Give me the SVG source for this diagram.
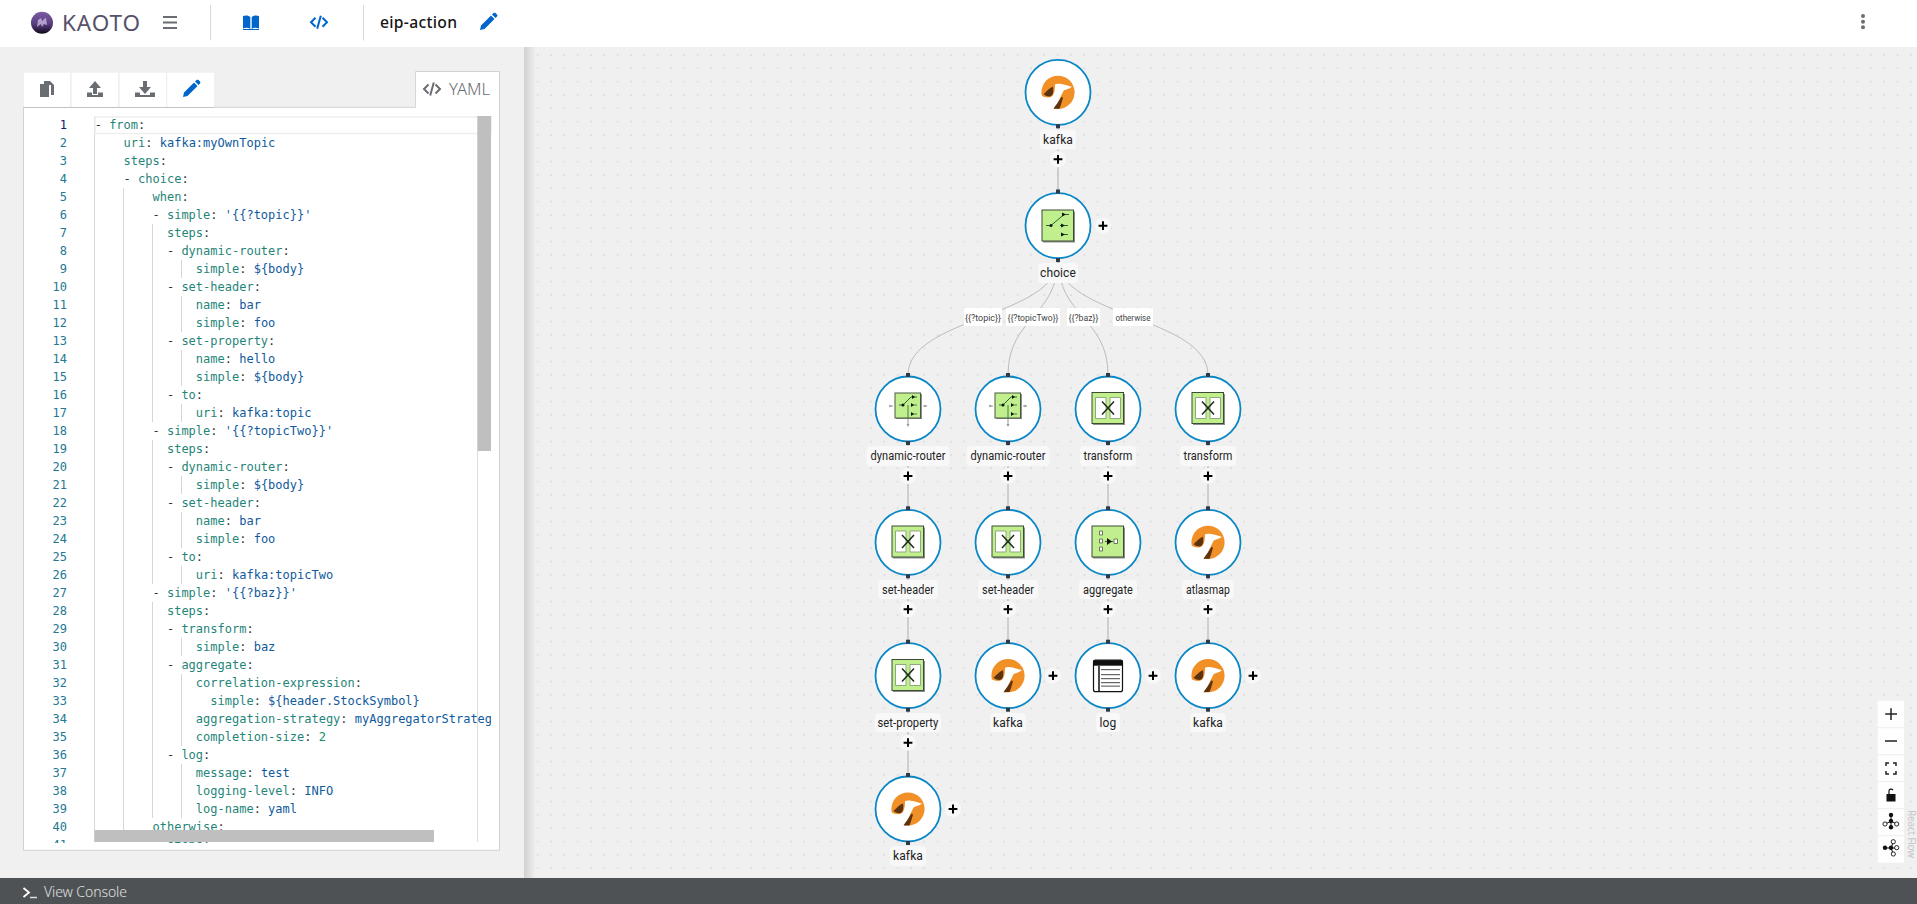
<svg xmlns="http://www.w3.org/2000/svg" width="1917" height="904" viewBox="0 0 1917 904">
<style>
.ui{font-family:"Noto Sans","Liberation Sans",sans-serif}
.code{font-family:"DejaVu Sans Mono","Liberation Mono",monospace;font-size:12px;white-space:pre;fill:#333}
.k{fill:#1f8579}.v{fill:#0f5a9c}.n{fill:#178a6a}
.ln{font-family:"DejaVu Sans Mono","Liberation Mono",monospace;font-size:12px;fill:#237893;text-anchor:end}
.guide{stroke:#d6d6d6;stroke-width:1;fill:none}
.edge{stroke:#c6c6ca;stroke-width:1.6;fill:none}
.curve{stroke:#bcbcc0;stroke-width:1;fill:none}
.ring{fill:#fff;stroke:#0a87c6;stroke-width:1.8}
.hd{fill:#2f3a48}
.lbg{fill:#f8f8f8}
.lt{font-family:Roboto,"Noto Sans",sans-serif;font-size:12px;fill:#222;text-anchor:middle;letter-spacing:.1px}
.elt{font-family:Roboto,"Noto Sans",sans-serif;font-size:9.500px;fill:#444;text-anchor:middle}
.gi{fill:#6a6e73}.bi{fill:#0066cc}
.ctl{fill:#fff;stroke:#111;stroke-width:.9}
</style>
<defs>
<pattern id="dots" x="990" y="54" width="13.333" height="13.333" patternUnits="userSpaceOnUse"><circle cx="1" cy="1" r="0.7" fill="#c4c4c4"/></pattern>
<linearGradient id="logo" x1="0" y1="0" x2="0" y2="1"><stop offset="0" stop-color="#7d5ba6"/><stop offset="0.55" stop-color="#5a3f80"/><stop offset="1" stop-color="#12091c"/></linearGradient>
<linearGradient id="shadow" x1="0" y1="0" x2="1" y2="0"><stop offset="0" stop-color="#000" stop-opacity=".13"/><stop offset="1" stop-color="#000" stop-opacity="0"/></linearGradient>
<clipPath id="ed"><rect x="94" y="116" width="397" height="727"/></clipPath>
<clipPath id="gut"><rect x="24" y="116" width="70" height="727"/></clipPath>
<g id="plus"><circle r="8" fill="#f8f8f8"/><path d="M-4.400 0H4.400M0-4.400V4.400" stroke="#000" stroke-width="2" fill="none"/></g>
<g id="camel">
<circle r="16.600" fill="#f29028"/>
<path d="M-3-8C1-9.500 5-8 14-5.500C11-3 8-3 6-2C4 1 2 6 0 10C-1 12-3 14-4.500 16.800C-10 16-15 11-17 3C-13 5.500-9 6-6 4C-3.500 2-3-4-3-8Z" fill="#fff"/>
<path d="M-14.500 2C-11-1.500-8-4.500-5-5.500C-4.500-3-4.500 1-6 3C-8 5-11 4.500-14.500 2Z" fill="#5c3310"/>
<path d="M3.500 4.500L5 5.500C4 9 3 13 1.500 16.400L-4.500 16.500C-3 14-1 12 0 10C1.500 8 2.500 6 3.500 4.500Z" fill="#5c3310"/>
</g>
<g id="sq"><rect x="-15" y="-14" width="32" height="31" fill="#8e8e8e"/><rect x="-16" y="-15.500" width="31.500" height="31" fill="#c2ef8e" stroke="#3c4a36" stroke-width="1"/></g>
<g id="choiceI"><use href="#sq"/>
<path d="M-12 0H-7L6-11H11" fill="none" stroke="#263" stroke-width="1"/><path d="M2 0H10M3 9H10" stroke="#263" stroke-width="1"/>
<circle cx="-7" cy="0" r="1.500" fill="#111"/><path d="M4-13V-9L8-11ZM3-2V2L7 0ZM3 7V11L7 9Z" fill="#111"/></g>
<g id="dynI">
<path d="M-15-3H-19M15-3H19M0 10V16" stroke="#999" stroke-width="1"/><path d="M-16-3l-2.500-1.500v3zM19-3l-2.500-1.500v3zM0 18l-1.500-3h3z" fill="#999"/>
<rect x="-12" y="-15" width="26" height="25" fill="#8e8e8e"/><rect x="-13" y="-16" width="25.500" height="25" fill="#c2ef8e" stroke="#4a5a42" stroke-width="1"/>
<path d="M-9-4H-5L3-12H9" fill="none" stroke="#263" stroke-width="1"/><path d="M3-4H9M3 5H9M0-4V9" stroke="#263" stroke-width=".8"/>
<circle cx="-5" cy="-4" r="1.500" fill="#111"/><path d="M4-14V-10L7-12ZM3-6V-2L6-4ZM3 3V7L6 5Z" fill="#111"/></g>
<g id="trI"><use href="#sq"/>
<path d="M-12.500-10.500H-2V10.500H-12.500ZM2-10.500H12.500V10.500H2Z" fill="#fff" stroke="#8fa880" stroke-width="1"/>
<path d="M-6-6.500L6 6.500M6-6.500L-6 6.500" stroke="#1f2a1c" stroke-width="1.500"/></g>
<g id="agI"><use href="#sq"/>
<path d="M-8.500-10.500h3v4h-3zM-8.500-2.500h3v4h-3zM-8.500 5.500h3v4h-3zM6-2.500h3.500v4.500H6z" fill="#fff" stroke="#4a5a42" stroke-width=".8"/>
<path d="M-3 0H5" stroke="#263" stroke-width="1"/><path d="M-1-3.500V3.500L4 0Z" fill="#111"/></g>
<g id="logI">
<rect x="-14.500" y="-15.500" width="29" height="31.500" rx="2" fill="#fff" stroke="#111" stroke-width="1.200"/>
<path d="M-14.500-15.500h29v5.500h-29z" fill="#111"/><path d="M-9-10V16" stroke="#111" stroke-width="1.500"/>
<path d="M-7-6H12M-7-1H12M-7 3H12M-7 7H12" stroke="#444" stroke-width="1"/><path d="M-7 10.500H12" stroke="#888" stroke-width="1.500"/></g>
<path id="pencil" d="M-8 8L-7 3.500L3-6.500L6.500-3L-3.500 7ZM4-7.500L5.500-9C6-9.500 7-9.500 7.500-9L9-7.500C9.500-7 9.500-6 9-5.500L7.500-4Z"/>
<g id="code"><path d="M-3.500-4.500L-8 0L-3.500 4.500M3.500-4.500L8 0L3.500 4.500" fill="none" stroke-width="2"/><path d="M1.800-6.500L-1.800 6.500" fill="none" stroke-width="2"/></g>
</defs>

<rect width="1917" height="904" fill="#f0f0f0"/>
<rect x="525" y="47" width="1392" height="831" fill="url(#dots)"/>
<rect x="524" y="47" width="12" height="831" fill="url(#shadow)"/>

<g id="masthead">
<rect width="1917" height="47" fill="#fff"/>
<circle cx="42" cy="22.700" r="11" fill="url(#logo)"/>
<path d="M37 27L38 20L41 18L42 21L46 17.500L47 25L44 24L42 27L41 24Z" fill="#c9b5dd" opacity=".8"/>
<text class="ui" x="62" y="31" font-size="22.500" font-weight="400" fill="#55526a" textLength="78" lengthAdjust="spacing">KAOTO</text>
<path d="M163 17H177M163 22.500H177M163 28H177" stroke="#6a6e73" stroke-width="2"/>
<path d="M210.500 5V40.500M363.500 5V40.500" stroke="#d8d8d8" stroke-width="1"/>
<path class="bi" d="M243 16C246 15 249 15.500 250.300 17V29C248.500 27.500 246 27.500 243 28.500ZM259 16C256 15 253 15.500 251.700 17V29C253.500 27.500 256 27.500 259 28.500Z"/>
<path class="bi" d="M243 29H259V30H243Z"/>
<use href="#code" x="319" y="22.300" stroke="#0066cc"/>
<text class="ui" x="380" y="28.300" font-size="15.700" font-weight="500" fill="#151515" textLength="77">eip-action</text>
<use href="#pencil" x="488" y="22" class="bi"/>
<circle class="gi" cx="1863" cy="16" r="2"/><circle class="gi" cx="1863" cy="21.700" r="2"/><circle class="gi" cx="1863" cy="27.300" r="2"/>
</g>

<g id="editor-panel">
<rect x="23.500" y="107.300" width="476" height="743" fill="#fff" stroke="#d2d2d2" stroke-width="1"/>
<path d="M415.700 107.500V71.500H499.500V107.500" fill="#fff" stroke="#d2d2d2" stroke-width="1"/>
<rect x="416.200" y="72" width="82.800" height="36" fill="#fff"/>
<use href="#code" x="432" y="89" stroke="#6a6e73"/>
<text class="ui" x="449" y="95" font-size="16" font-weight="300" fill="#6a6e73" textLength="41" lengthAdjust="spacingAndGlyphs">YAML</text>
<g fill="#fff"><rect x="24" y="72.700" width="46" height="34.600"/><rect x="71.700" y="72.700" width="46.300" height="34.600"/><rect x="119.700" y="72.700" width="46.300" height="34.600"/><rect x="167.300" y="72.700" width="46.700" height="34.600"/></g>
<path d="M24 107.500H214" stroke="#c4c4c4" stroke-width="1"/>
<path class="gi" d="M44 81h6l4 4v10h-3V85h-7ZM40 84h9v13h-9Z"/>
<path class="gi" d="M95 81l6 7h-4v6h-4v-6h-4ZM87 92.500h5v2.500h6v-2.500h5V97H87Z"/>
<path class="gi" d="M143 81h4v6h4l-6 7-6-7h4ZM135 92.500h5v2.500h10v-2.500h5V97h-20Z"/>
<use href="#pencil" x="191" y="89" class="bi"/>
</g>

<g id="code-editor">
<g clip-path="url(#gut)"><g transform="translate(0,-1)">
<text class="ln" x="67" y="129.500" style="fill:#0b216f">1</text>
<text class="ln" x="67" y="147.500">2</text><text class="ln" x="67" y="165.500">3</text><text class="ln" x="67" y="183.500">4</text><text class="ln" x="67" y="201.500">5</text><text class="ln" x="67" y="219.500">6</text><text class="ln" x="67" y="237.500">7</text><text class="ln" x="67" y="255.500">8</text><text class="ln" x="67" y="273.500">9</text><text class="ln" x="67" y="291.500">10</text><text class="ln" x="67" y="309.500">11</text><text class="ln" x="67" y="327.500">12</text><text class="ln" x="67" y="345.500">13</text><text class="ln" x="67" y="363.500">14</text><text class="ln" x="67" y="381.500">15</text><text class="ln" x="67" y="399.500">16</text><text class="ln" x="67" y="417.500">17</text><text class="ln" x="67" y="435.500">18</text><text class="ln" x="67" y="453.500">19</text><text class="ln" x="67" y="471.500">20</text><text class="ln" x="67" y="489.500">21</text><text class="ln" x="67" y="507.500">22</text><text class="ln" x="67" y="525.500">23</text><text class="ln" x="67" y="543.500">24</text><text class="ln" x="67" y="561.500">25</text><text class="ln" x="67" y="579.500">26</text><text class="ln" x="67" y="597.500">27</text><text class="ln" x="67" y="615.500">28</text><text class="ln" x="67" y="633.500">29</text><text class="ln" x="67" y="651.500">30</text><text class="ln" x="67" y="669.500">31</text><text class="ln" x="67" y="687.500">32</text><text class="ln" x="67" y="705.500">33</text><text class="ln" x="67" y="723.500">34</text><text class="ln" x="67" y="741.500">35</text><text class="ln" x="67" y="759.500">36</text><text class="ln" x="67" y="777.500">37</text><text class="ln" x="67" y="795.500">38</text><text class="ln" x="67" y="813.500">39</text><text class="ln" x="67" y="831.500">40</text><text class="ln" x="67" y="849.500">41</text>
</g></g>
<path class="guide" d="M94.500 116V842M123.500 188V842M152.500 224V422M152.500 440V584M152.500 602V818M152.500 836V842M181.500 260V278M181.500 296V332M181.500 350V386M181.500 404V422M181.500 476V494M181.500 512V548M181.500 566V584M181.500 638V656M181.500 674V746M181.500 764V818"/>
<path d="M477.500 451V842" stroke="#ddd" stroke-width="1"/>
<rect x="95" y="117" width="396" height="16.500" fill="none" stroke="#eeeeee" stroke-width="1.500"/>
<g clip-path="url(#ed)"><g transform="translate(0,-1)">
<text class="code" x="94.700" y="129.500">- <tspan class="k">from</tspan>:</text>
<text class="code" x="94.700" y="147.500">    <tspan class="k">uri</tspan>: <tspan class="v">kafka:myOwnTopic</tspan></text>
<text class="code" x="94.700" y="165.500">    <tspan class="k">steps</tspan>:</text>
<text class="code" x="94.700" y="183.500">    - <tspan class="k">choice</tspan>:</text>
<text class="code" x="94.700" y="201.500">        <tspan class="k">when</tspan>:</text>
<text class="code" x="94.700" y="219.500">        - <tspan class="k">simple</tspan>: <tspan class="v">'{{?topic}}'</tspan></text>
<text class="code" x="94.700" y="237.500">          <tspan class="k">steps</tspan>:</text>
<text class="code" x="94.700" y="255.500">          - <tspan class="k">dynamic-router</tspan>:</text>
<text class="code" x="94.700" y="273.500">              <tspan class="k">simple</tspan>: <tspan class="v">${body}</tspan></text>
<text class="code" x="94.700" y="291.500">          - <tspan class="k">set-header</tspan>:</text>
<text class="code" x="94.700" y="309.500">              <tspan class="k">name</tspan>: <tspan class="v">bar</tspan></text>
<text class="code" x="94.700" y="327.500">              <tspan class="k">simple</tspan>: <tspan class="v">foo</tspan></text>
<text class="code" x="94.700" y="345.500">          - <tspan class="k">set-property</tspan>:</text>
<text class="code" x="94.700" y="363.500">              <tspan class="k">name</tspan>: <tspan class="v">hello</tspan></text>
<text class="code" x="94.700" y="381.500">              <tspan class="k">simple</tspan>: <tspan class="v">${body}</tspan></text>
<text class="code" x="94.700" y="399.500">          - <tspan class="k">to</tspan>:</text>
<text class="code" x="94.700" y="417.500">              <tspan class="k">uri</tspan>: <tspan class="v">kafka:topic</tspan></text>
<text class="code" x="94.700" y="435.500">        - <tspan class="k">simple</tspan>: <tspan class="v">'{{?topicTwo}}'</tspan></text>
<text class="code" x="94.700" y="453.500">          <tspan class="k">steps</tspan>:</text>
<text class="code" x="94.700" y="471.500">          - <tspan class="k">dynamic-router</tspan>:</text>
<text class="code" x="94.700" y="489.500">              <tspan class="k">simple</tspan>: <tspan class="v">${body}</tspan></text>
<text class="code" x="94.700" y="507.500">          - <tspan class="k">set-header</tspan>:</text>
<text class="code" x="94.700" y="525.500">              <tspan class="k">name</tspan>: <tspan class="v">bar</tspan></text>
<text class="code" x="94.700" y="543.500">              <tspan class="k">simple</tspan>: <tspan class="v">foo</tspan></text>
<text class="code" x="94.700" y="561.500">          - <tspan class="k">to</tspan>:</text>
<text class="code" x="94.700" y="579.500">              <tspan class="k">uri</tspan>: <tspan class="v">kafka:topicTwo</tspan></text>
<text class="code" x="94.700" y="597.500">        - <tspan class="k">simple</tspan>: <tspan class="v">'{{?baz}}'</tspan></text>
<text class="code" x="94.700" y="615.500">          <tspan class="k">steps</tspan>:</text>
<text class="code" x="94.700" y="633.500">          - <tspan class="k">transform</tspan>:</text>
<text class="code" x="94.700" y="651.500">              <tspan class="k">simple</tspan>: <tspan class="v">baz</tspan></text>
<text class="code" x="94.700" y="669.500">          - <tspan class="k">aggregate</tspan>:</text>
<text class="code" x="94.700" y="687.500">              <tspan class="k">correlation-expression</tspan>:</text>
<text class="code" x="94.700" y="705.500">                <tspan class="k">simple</tspan>: <tspan class="v">${header.StockSymbol}</tspan></text>
<text class="code" x="94.700" y="723.500">              <tspan class="k">aggregation-strategy</tspan>: <tspan class="v">myAggregatorStrateg</tspan></text>
<text class="code" x="94.700" y="741.500">              <tspan class="k">completion-size</tspan>: <tspan class="n">2</tspan></text>
<text class="code" x="94.700" y="759.500">          - <tspan class="k">log</tspan>:</text>
<text class="code" x="94.700" y="777.500">              <tspan class="k">message</tspan>: <tspan class="v">test</tspan></text>
<text class="code" x="94.700" y="795.500">              <tspan class="k">logging-level</tspan>: <tspan class="v">INFO</tspan></text>
<text class="code" x="94.700" y="813.500">              <tspan class="k">log-name</tspan>: <tspan class="v">yaml</tspan></text>
<text class="code" x="94.700" y="831.500">        <tspan class="k">otherwise</tspan>:</text>
<text class="code" x="94.700" y="849.500">          <tspan class="k">steps</tspan>:</text>
</g></g>
<rect x="477.300" y="116" width="13.700" height="335" fill="#bfbfbf"/>
<rect x="94.500" y="830" width="339.500" height="12" fill="#bfbfbf"/>
</g>

<g id="connectors">
<path class="edge" d="M1058 126V192"/>
<path class="curve" d="M1058 259C1058 317 908 317 908 375"/>
<path class="curve" d="M1058 259C1058 317 1008 317 1008 375"/>
<path class="curve" d="M1058 259C1058 317 1108 317 1108 375"/>
<path class="curve" d="M1058 259C1058 317 1208 317 1208 375"/>
<path class="edge" d="M908 443V509M908 576V642M908 709V775M1008 443V509M1008 576V642M1108 443V509M1108 576V642M1208 443V509M1208 576V642"/>
</g>

<g id="edge-labels">
<rect x="964" y="308" width="38" height="18" fill="#fff"/><text class="elt" x="983" y="320.500" textLength="36" lengthAdjust="spacingAndGlyphs">{{?topic}}</text>
<rect x="1006" y="308" width="54" height="18" fill="#fff"/><text class="elt" x="1033" y="320.500" textLength="51" lengthAdjust="spacingAndGlyphs">{{?topicTwo}}</text>
<rect x="1067" y="308" width="33" height="18" fill="#fff"/><text class="elt" x="1083.500" y="320.500" textLength="30" lengthAdjust="spacingAndGlyphs">{{?baz}}</text>
<rect x="1113" y="308" width="40" height="18" fill="#fff"/><text class="elt" x="1133" y="320.500" textLength="35" lengthAdjust="spacingAndGlyphs">otherwise</text>
</g>

<g id="node-kafka-0"><circle class="ring" cx="1058" cy="92.300" r="32.500"/><use href="#camel" x="1058" y="92.300"/><rect class="hd" x="1056" y="124.300" width="4" height="4"/><rect class="lbg" x="1040" y="129.500" width="36" height="20" rx="4"/><text class="lt" x="1058" y="143.500">kafka</text><use href="#plus" x="1058" y="159.300"/></g>
<g id="node-choice"><circle class="ring" cx="1058" cy="225.700" r="32.500"/><use href="#choiceI" x="1058" y="225.500"/><rect class="hd" x="1056" y="189.500" width="4" height="4"/><rect class="hd" x="1056" y="258" width="4" height="4"/><rect class="lbg" x="1038" y="263" width="40" height="20" rx="4"/><text class="lt" x="1058" y="277">choice</text><use href="#plus" x="1103" y="225.700"/></g>

<g id="node-dynamic-router-1"><circle class="ring" cx="908" cy="409" r="32.500"/><use href="#dynI" x="908" y="409"/><rect class="hd" x="906" y="373" width="4" height="4"/><rect class="hd" x="906" y="441" width="4" height="4"/><rect class="lbg" x="866.500" y="446" width="83" height="20" rx="4"/><text class="lt" x="908" y="460" textLength="75" lengthAdjust="spacingAndGlyphs">dynamic-router</text><use href="#plus" x="908" y="476"/></g>
<g id="node-dynamic-router-2"><circle class="ring" cx="1008" cy="409" r="32.500"/><use href="#dynI" x="1008" y="409"/><rect class="hd" x="1006" y="373" width="4" height="4"/><rect class="hd" x="1006" y="441" width="4" height="4"/><rect class="lbg" x="966.500" y="446" width="83" height="20" rx="4"/><text class="lt" x="1008" y="460" textLength="75" lengthAdjust="spacingAndGlyphs">dynamic-router</text><use href="#plus" x="1008" y="476"/></g>
<g id="node-transform-1"><circle class="ring" cx="1108" cy="409" r="32.500"/><use href="#trI" x="1108" y="408"/><rect class="hd" x="1106" y="373" width="4" height="4"/><rect class="hd" x="1106" y="441" width="4" height="4"/><rect class="lbg" x="1080" y="446" width="56" height="20" rx="4"/><text class="lt" x="1108" y="460" textLength="49" lengthAdjust="spacingAndGlyphs">transform</text><use href="#plus" x="1108" y="476"/></g>
<g id="node-transform-2"><circle class="ring" cx="1208" cy="409" r="32.500"/><use href="#trI" x="1208" y="408"/><rect class="hd" x="1206" y="373" width="4" height="4"/><rect class="hd" x="1206" y="441" width="4" height="4"/><rect class="lbg" x="1180" y="446" width="56" height="20" rx="4"/><text class="lt" x="1208" y="460" textLength="49" lengthAdjust="spacingAndGlyphs">transform</text><use href="#plus" x="1208" y="476"/></g>

<g id="node-set-header-1"><circle class="ring" cx="908" cy="542.300" r="32.500"/><use href="#trI" x="908" y="541.500"/><rect class="hd" x="906" y="506.300" width="4" height="4"/><rect class="hd" x="906" y="574.300" width="4" height="4"/><rect class="lbg" x="878" y="580" width="60" height="19" rx="4"/><text class="lt" x="908" y="594" textLength="52" lengthAdjust="spacingAndGlyphs">set-header</text><use href="#plus" x="908" y="609.300"/></g>
<g id="node-set-header-2"><circle class="ring" cx="1008" cy="542.300" r="32.500"/><use href="#trI" x="1008" y="541.500"/><rect class="hd" x="1006" y="506.300" width="4" height="4"/><rect class="hd" x="1006" y="574.300" width="4" height="4"/><rect class="lbg" x="978" y="580" width="60" height="19" rx="4"/><text class="lt" x="1008" y="594" textLength="52" lengthAdjust="spacingAndGlyphs">set-header</text><use href="#plus" x="1008" y="609.300"/></g>
<g id="node-aggregate"><circle class="ring" cx="1108" cy="542.300" r="32.500"/><use href="#agI" x="1108" y="541.500"/><rect class="hd" x="1106" y="506.300" width="4" height="4"/><rect class="hd" x="1106" y="574.300" width="4" height="4"/><rect class="lbg" x="1079" y="580" width="58" height="19" rx="4"/><text class="lt" x="1108" y="594" textLength="50" lengthAdjust="spacingAndGlyphs">aggregate</text><use href="#plus" x="1108" y="609.300"/></g>
<g id="node-atlasmap"><circle class="ring" cx="1208" cy="542.300" r="32.500"/><use href="#camel" x="1208" y="542.300"/><rect class="hd" x="1206" y="506.300" width="4" height="4"/><rect class="hd" x="1206" y="574.300" width="4" height="4"/><rect class="lbg" x="1182" y="580" width="52" height="19" rx="4"/><text class="lt" x="1208" y="594" textLength="44" lengthAdjust="spacingAndGlyphs">atlasmap</text><use href="#plus" x="1208" y="609.300"/></g>

<g id="node-set-property"><circle class="ring" cx="908" cy="675.700" r="32.500"/><use href="#trI" x="908" y="675"/><rect class="hd" x="906" y="639.700" width="4" height="4"/><rect class="hd" x="906" y="707.700" width="4" height="4"/><rect class="lbg" x="875" y="713" width="66" height="19" rx="4"/><text class="lt" x="908" y="727" textLength="61" lengthAdjust="spacingAndGlyphs">set-property</text><use href="#plus" x="908" y="742.700"/></g>
<g id="node-kafka-1"><circle class="ring" cx="1008" cy="675.700" r="32.500"/><use href="#camel" x="1008" y="675.700"/><rect class="hd" x="1006" y="639.700" width="4" height="4"/><rect class="hd" x="1006" y="707.700" width="4" height="4"/><rect class="lbg" x="990" y="713" width="36" height="19" rx="4"/><text class="lt" x="1008" y="727">kafka</text><use href="#plus" x="1053" y="675.700"/></g>
<g id="node-log"><circle class="ring" cx="1108" cy="675.700" r="32.500"/><use href="#logI" x="1108" y="675.700"/><rect class="hd" x="1106" y="639.700" width="4" height="4"/><rect class="hd" x="1106" y="707.700" width="4" height="4"/><rect class="lbg" x="1096" y="713" width="24" height="19" rx="4"/><text class="lt" x="1108" y="727">log</text><use href="#plus" x="1153" y="675.700"/></g>
<g id="node-kafka-2"><circle class="ring" cx="1208" cy="675.700" r="32.500"/><use href="#camel" x="1208" y="675.700"/><rect class="hd" x="1206" y="639.700" width="4" height="4"/><rect class="hd" x="1206" y="707.700" width="4" height="4"/><rect class="lbg" x="1190" y="713" width="36" height="19" rx="4"/><text class="lt" x="1208" y="727">kafka</text><use href="#plus" x="1253" y="675.700"/></g>

<g id="node-kafka-3"><circle class="ring" cx="908" cy="809" r="32.500"/><use href="#camel" x="908" y="809"/><rect class="hd" x="906" y="773" width="4" height="4"/><rect class="hd" x="906" y="841" width="4" height="4"/><rect class="lbg" x="890" y="846" width="36" height="20" rx="4"/><text class="lt" x="908" y="860">kafka</text><use href="#plus" x="953" y="809"/></g>

<g id="controls">
<rect x="1877.700" y="700.700" width="26.300" height="162" fill="#fefefe"/>
<path d="M1877.700 727.700H1904M1877.700 754.700H1904M1877.700 781.700H1904M1877.700 808.700H1904M1877.700 835.700H1904" stroke="#eee" stroke-width="1"/>
<path d="M1885.200 714H1897M1891 708.200V720M1885 741H1897" stroke="#222" stroke-width="1.500" fill="none"/>
<path d="M1886 766V763H1889M1893 763H1896V766M1896 771V774H1893M1889 774H1886V771" stroke="#222" stroke-width="1.500" fill="none"/>
<path d="M1886.500 794h9v7.500h-9z" fill="#111"/><path d="M1889 794V791C1889 789 1891.500 788.500 1893 790" fill="none" stroke="#111" stroke-width="1.200"/>
<path d="M1891 815V827.500M1891 821L1885.500 824M1891 821L1896.500 824" fill="none" stroke="#111" stroke-width="1"/>
<circle cx="1891" cy="815" r="2.200" fill="#111"/><circle cx="1891" cy="821" r="2.200" fill="#111"/><circle cx="1891" cy="827.300" r="2.200" fill="#111"/><circle class="ctl" cx="1885" cy="824" r="2.100"/><circle class="ctl" cx="1896.700" cy="824" r="2.100"/>
<path d="M1885 848H1896.700M1891 848L1893.300 842M1891 848L1893.300 854" fill="none" stroke="#111" stroke-width="1"/>
<circle cx="1885" cy="847.700" r="2.200" fill="#111"/><circle cx="1891" cy="847.700" r="2.200" fill="#111"/><circle class="ctl" cx="1893.300" cy="841.700" r="2.100"/><circle class="ctl" cx="1896.700" cy="847.700" r="2.100"/><circle class="ctl" cx="1893.300" cy="854" r="2.100"/>
<text class="ui" transform="translate(1908 810) rotate(90)" font-size="10" fill="#c8c8c8" textLength="48">React Flow</text>
</g>

<g id="console-bar">
<rect y="878" width="1917" height="26" fill="#4f5255"/>
<path d="M23.500 888L29 892.500L23.500 897" fill="none" stroke="#fff" stroke-width="1.800"/><path d="M30 897.500H37" stroke="#ddd" stroke-width="1.500"/>
<text class="ui" x="44" y="897" font-size="14" font-weight="300" fill="#e0e0e0" textLength="83">View Console</text>
</g>
</svg>
